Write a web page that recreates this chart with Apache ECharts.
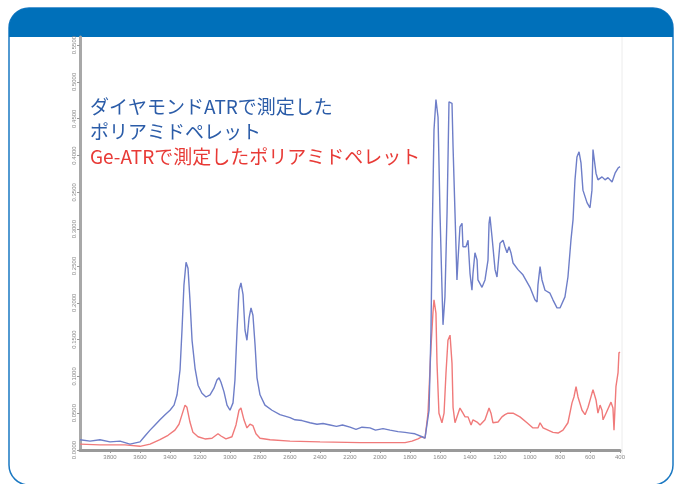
<!DOCTYPE html>
<html>
<head>
<meta charset="utf-8">
<script src="https://cdn.jsdelivr.net/npm/echarts@6/dist/echarts.min.js"></script>
<style>
  html, body { margin: 0; padding: 0; background: #ffffff; }
  #chart { width: 681px; height: 484px; }
</style>
</head>
<body>
<div id="chart"></div>
<script>
// IR spectra of a polyamide pellet: diamond ATR vs Ge-ATR
// wavenumber (cm-1) and absorbance pairs

const diamondWn = [4000, 3933, 3867, 3800, 3733, 3667, 3600, 3567, 3533, 3500, 3467, 3433, 3400, 3373, 3353, 3333, 3320, 3307, 3293, 3280, 3267, 3253, 3233, 3213, 3187, 3160, 3133, 3107, 3087, 3073, 3060, 3040, 3020, 3000, 2980, 2967, 2953, 2940, 2927, 2913, 2900, 2887, 2873, 2860, 2847, 2833, 2820, 2800, 2767, 2720, 2667, 2600, 2567, 2520, 2467, 2420, 2380, 2333, 2290, 2250, 2200, 2160, 2120, 2067, 2030, 1980, 1933, 1880, 1833, 1800, 1767, 1720, 1700, 1673, 1660, 1653, 1640, 1627, 1613, 1600, 1587, 1580, 1567, 1553, 1540, 1520, 1513, 1500, 1487, 1480, 1467, 1453, 1447, 1427, 1413, 1400, 1387, 1380, 1367, 1353, 1347, 1320, 1300, 1280, 1273, 1267, 1253, 1233, 1220, 1200, 1180, 1167, 1153, 1140, 1127, 1113, 1080, 1047, 1000, 967, 953, 947, 933, 920, 900, 867, 847, 820, 800, 767, 747, 727, 713, 700, 687, 673, 660, 647, 620, 600, 587, 580, 573, 560, 547, 520, 500, 480, 453, 433, 413, 400];
const diamondAbs = [0.014, 0.012, 0.014, 0.011, 0.012, 0.008, 0.011, 0.019, 0.027, 0.034, 0.041, 0.048, 0.054, 0.061, 0.075, 0.109, 0.163, 0.224, 0.255, 0.247, 0.204, 0.149, 0.111, 0.088, 0.077, 0.072, 0.075, 0.084, 0.095, 0.098, 0.092, 0.079, 0.061, 0.054, 0.064, 0.095, 0.163, 0.217, 0.227, 0.211, 0.163, 0.149, 0.179, 0.193, 0.183, 0.143, 0.098, 0.075, 0.061, 0.054, 0.048, 0.044, 0.041, 0.040, 0.037, 0.035, 0.036, 0.034, 0.032, 0.034, 0.031, 0.028, 0.031, 0.030, 0.027, 0.029, 0.027, 0.025, 0.024, 0.023, 0.022, 0.018, 0.016, 0.054, 0.163, 0.281, 0.435, 0.476, 0.452, 0.322, 0.221, 0.170, 0.208, 0.322, 0.473, 0.471, 0.412, 0.322, 0.231, 0.258, 0.303, 0.308, 0.276, 0.276, 0.285, 0.240, 0.217, 0.240, 0.268, 0.258, 0.231, 0.221, 0.231, 0.258, 0.308, 0.317, 0.289, 0.245, 0.235, 0.281, 0.285, 0.276, 0.268, 0.276, 0.268, 0.254, 0.245, 0.238, 0.221, 0.204, 0.201, 0.224, 0.249, 0.231, 0.217, 0.213, 0.204, 0.193, 0.193, 0.208, 0.235, 0.285, 0.313, 0.367, 0.398, 0.405, 0.390, 0.353, 0.336, 0.329, 0.353, 0.408, 0.410, 0.376, 0.367, 0.371, 0.367, 0.370, 0.364, 0.376, 0.383, 0.385];

const geWn = [4000, 3867, 3700, 3600, 3533, 3467, 3413, 3367, 3340, 3320, 3300, 3287, 3267, 3247, 3213, 3167, 3120, 3080, 3060, 3027, 2987, 2960, 2940, 2927, 2907, 2887, 2867, 2847, 2827, 2800, 2733, 2600, 2400, 2133, 1933, 1833, 1787, 1747, 1720, 1700, 1680, 1660, 1647, 1640, 1627, 1620, 1607, 1587, 1573, 1560, 1547, 1533, 1520, 1513, 1500, 1487, 1467, 1447, 1433, 1413, 1393, 1380, 1353, 1333, 1300, 1273, 1260, 1247, 1213, 1187, 1167, 1147, 1113, 1067, 1020, 980, 947, 933, 913, 880, 847, 813, 780, 747, 720, 707, 693, 680, 653, 633, 613, 587, 580, 560, 547, 533, 520, 513, 493, 480, 460, 447, 440, 427, 413, 407, 400];
const geAbs = [0.008, 0.007, 0.007, 0.005, 0.008, 0.014, 0.020, 0.027, 0.035, 0.048, 0.061, 0.058, 0.038, 0.024, 0.018, 0.015, 0.016, 0.022, 0.019, 0.015, 0.018, 0.034, 0.054, 0.057, 0.041, 0.030, 0.035, 0.033, 0.022, 0.016, 0.014, 0.012, 0.011, 0.010, 0.010, 0.010, 0.012, 0.015, 0.018, 0.016, 0.050, 0.140, 0.186, 0.204, 0.186, 0.118, 0.050, 0.037, 0.050, 0.105, 0.149, 0.156, 0.118, 0.058, 0.037, 0.037, 0.057, 0.050, 0.045, 0.045, 0.034, 0.041, 0.038, 0.034, 0.041, 0.057, 0.050, 0.037, 0.038, 0.045, 0.048, 0.050, 0.050, 0.045, 0.037, 0.030, 0.030, 0.037, 0.030, 0.027, 0.024, 0.023, 0.027, 0.037, 0.064, 0.072, 0.086, 0.072, 0.054, 0.048, 0.058, 0.077, 0.082, 0.068, 0.050, 0.061, 0.054, 0.041, 0.050, 0.050, 0.065, 0.057, 0.027, 0.086, 0.105, 0.132, 0.133];

const wnMin = 400, wnMax = 4000, wnStep = 200;
const absMax = 0.561, absStep = 0.05;

const labelDiamond1 = 'ダイヤモンドATRで測定した';
const labelDiamond2 = 'ポリアミドペレット';
const labelGe = 'Ge-ATRで測定したポリアミドペレット';

function pairs(xs, ys) { return xs.map((x, i) => [x, ys[i]]); }

const chart = echarts.init(document.getElementById('chart'), null, { renderer: 'canvas' });

const noteFont = '19px "Noto Sans CJK JP"';

chart.setOption({
  animation: false,
  backgroundColor: '#ffffff',
  grid: { left: 80, right: 61, top: 37, bottom: 34 },
  xAxis: {
    type: 'value',
    min: wnMin, max: wnMax, interval: wnStep, inverse: true,
    axisLine: { lineStyle: { color: '#9a9a9a', width: 3 } },
    axisTick: { length: 3, lineStyle: { color: '#999' } },
    axisLabel: { fontSize: 6, color: '#8a8a8a', margin: 4, showMaxLabel: false,
      fontFamily: 'Liberation Sans', formatter: v => String(v) },
    splitLine: { show: false }
  },
  yAxis: {
    type: 'value',
    min: 0, max: absMax, interval: absStep,
    axisLine: { show: true, lineStyle: { color: '#a8a8a8', width: 3 } },
    axisTick: { show: true, length: 3, lineStyle: { color: '#999' } },
    axisLabel: { fontSize: 6, color: '#8a8a8a', rotate: 90, margin: 3, showMaxLabel: false,
      fontFamily: 'Liberation Sans', formatter: v => v.toFixed(4) },
    splitLine: { show: false }
  },
  series: [
    {
      type: 'line', name: labelDiamond1 + labelDiamond2,
      data: pairs(diamondWn, diamondAbs), showSymbol: false,
      lineStyle: { color: '#6e7ec8', width: 1.4 }, z: 3
    },
    {
      type: 'line', name: labelGe,
      data: pairs(geWn, geAbs), showSymbol: false,
      lineStyle: { color: '#f07a7a', width: 1.4 }, z: 2
    }
  ],
  graphic: [
    { type: 'rect', z: -10, shape: { x: 9, y: 8, width: 664, height: 477, r: 20 },
      style: { fill: '#ffffff', stroke: '#1a78c2', lineWidth: 1.5 } },
    { type: 'rect', z: -9, shape: { x: 9, y: 8, width: 664, height: 29, r: [20, 20, 0, 0] },
      style: { fill: '#0070ba' } },
    { type: 'line', z: -8, shape: { x1: 622, y1: 37, x2: 622, y2: 456 },
      style: { stroke: '#ececec', lineWidth: 1 } },
    { type: 'text', z: 10, left: 90, top: 97,
      style: { text: labelDiamond1, fill: '#2b5ca8', font: noteFont } },
    { type: 'text', z: 10, left: 90, top: 122,
      style: { text: labelDiamond2, fill: '#2b5ca8', font: noteFont } },
    { type: 'text', z: 10, left: 90, top: 147,
      style: { text: labelGe, fill: '#e83a36', font: noteFont } }
  ]
});
</script>
</body>
</html>
